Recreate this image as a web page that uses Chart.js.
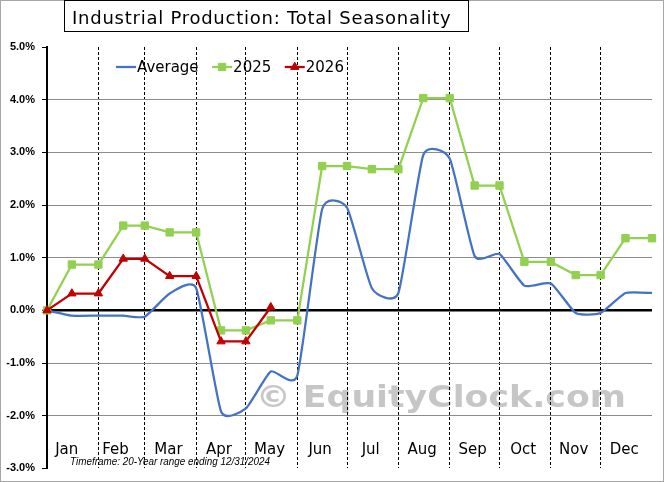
<!DOCTYPE html>
<html>
<head>
<meta charset="utf-8">
<title>Industrial Production: Total Seasonality</title>
<script src="https://cdn.jsdelivr.net/npm/chart.js@4.4.1/dist/chart.umd.min.js"></script>
<style>
  html, body { margin: 0; padding: 0; background: #fff; }
</style>
</head>
<body>
<canvas id="canvas" width="664" height="482"></canvas>
<script>
const ctx = document.getElementById("canvas").getContext("2d");

// day-of-year positions (Jan 1 = 0)
const monthNames = ["Jan", "Feb", "Mar", "Apr", "May", "Jun", "Jul", "Aug", "Sep", "Oct", "Nov", "Dec"];
const monthStarts = [0, 31, 59, 90, 120, 151, 181, 212, 243, 273, 304, 334, 365];
const pointDays = [0, 15, 31, 46, 59, 74, 90, 105, 120, 135, 151, 166, 181, 196, 212, 227, 243, 258, 273, 288, 304, 319, 334, 349, 365];

// series values, percent
const average = [0, -0.10, -0.10, -0.10, -0.12, 0.32, 0.42, -1.92, -1.86, -1.16, -1.24, 1.92, 1.95,
                 0.42, 0.33, 2.95, 2.88, 1.03, 1.07, 0.47, 0.51, -0.05, -0.05, 0.33, 0.33];
const y2025 = [0, 0.87, 0.87, 1.61, 1.61, 1.48, 1.48, -0.38, -0.38, -0.19, -0.19, 2.74, 2.74,
               2.68, 2.68, 4.03, 4.03, 2.37, 2.37, 0.92, 0.92, 0.67, 0.67, 1.37, 1.37];
const y2026 = [0, 0.32, 0.32, 0.98, 0.98, 0.65, 0.65, -0.59, -0.59, 0.06];

const yTicks = [-3, -2, -1, 0, 1, 2, 3, 4, 5];

const titleText = "Industrial Production: Total Seasonality";
const footnote = "Timeframe: 20-Year range ending 12/31/2024";
const watermark = "\u00A9 EquityClock.com";

const toPoints = (vals) => vals.map((v, i) => ({ x: pointDays[i], y: v }));

// spreadsheet-style smoothing for the average line
const smoothLine = {
  id: "smoothLine",
  beforeDatasetDraw: (chart, args) => {
    if (args.index !== 0) return;
    const line = args.meta.dataset;
    const pts = args.meta.data;
    if (line.updateControlPoints) line.updateControlPoints(chart.chartArea);
    const k = 0.085;
    for (let i = 0; i < pts.length; i++) {
      const p = pts[i];
      const prev = pts[Math.max(i - 1, 0)];
      const next = pts[Math.min(i + 1, pts.length - 1)];
      const dx = (next.x - prev.x) * k;
      const dy = (next.y - prev.y) * k;
      p.cp1x = p.x - dx; p.cp1y = p.y - dy;
      p.cp2x = p.x + dx; p.cp2y = p.y + dy;
    }
    line._path = undefined;
  }
};

const frame = {
  id: "frame",
  beforeDraw: (chart) => {
    const c = chart.ctx;
    c.save();
    c.fillStyle = "#fff";
    c.fillRect(0, 0, chart.width, chart.height);
    c.strokeStyle = "#a6a6a6";
    c.lineWidth = 1;
    c.strokeRect(0.5, 0.5, chart.width - 1, chart.height - 1);
    // watermark, under the grid
    c.fillStyle = "rgba(192,192,192,0.9)";
    c.font = "bold 31px 'DejaVu Sans'";
    c.textBaseline = "alphabetic";
    c.translate(256, 407);
    c.scale(1.12, 1);
    c.fillText(watermark, 0, 0);
    c.restore();
  },
  afterDraw: (chart) => {
    const c = chart.ctx;
    const xs = chart.scales.x;
    const area = chart.chartArea;
    c.save();
    // title box
    c.fillStyle = "#fff";
    c.fillRect(64.5, 0.5, 404, 31);
    c.strokeStyle = "#000";
    c.lineWidth = 1;
    c.strokeRect(64.5, 0.5, 404, 31);
    c.fillStyle = "#000";
    c.font = "18px 'DejaVu Sans'";
    c.letterSpacing = "0.75px";
    c.textBaseline = "alphabetic";
    c.textAlign = "left";
    c.fillText(titleText, 72, 23.5);
    c.letterSpacing = "0px";

    // month labels
    c.font = "15px 'DejaVu Sans'";
    c.textAlign = "center";
    c.textBaseline = "middle";
    monthNames.forEach((m, i) => {
      const mid = (monthStarts[i] + monthStarts[i + 1]) / 2;
      const shift = i < 2 ? -6 : -2;
      c.fillText(m, xs.getPixelForValue(mid) + shift, area.bottom - 18);
    });

    // footnote
    c.font = "italic 10px 'Liberation Sans'";
    c.textAlign = "left";
    c.fillText(footnote, 70, area.bottom - 6, 200);

    // legend
    c.font = "15px 'DejaVu Sans'";
    c.textBaseline = "middle";
    let lx = 116;
    const ly = 67;
    [0, 1, 2].forEach((di) => {
      const ds = chart.data.datasets[di];
      c.strokeStyle = ds.borderColor;
      c.fillStyle = ds.backgroundColor;
      c.lineWidth = ds.borderWidth;
      c.beginPath();
      c.moveTo(lx, ly);
      c.lineTo(lx + 20, ly);
      c.stroke();
      if (ds.pointRadius > 0) {
        c.lineWidth = 1;
        Chart.helpers.drawPoint(c, {
          pointStyle: ds.pointStyle,
          radius: ds.pointRadius,
          borderWidth: 1,
          rotation: 0
        }, lx + 10, ly);
      }
      c.fillStyle = "#000";
      c.fillText(ds.label, lx + 21, ly + 1);
      lx += 21 + c.measureText(ds.label).width + 13.5;
    });
    c.restore();
  }
};

const chart = new Chart(ctx, {
  type: "line",
  data: {
    datasets: [
      {
        label: "Average",
        data: toPoints(average),
        borderColor: "#4472C4",
        backgroundColor: "#4472C4",
        borderWidth: 2.25,
        pointRadius: 0,
        tension: 0.4,
        order: 3,
        clip: 10
      },
      {
        label: "2025",
        data: toPoints(y2025),
        borderColor: "#92D050",
        backgroundColor: "#92D050",
        borderWidth: 2.25,
        pointStyle: "rect",
        pointRadius: 5.2,
        pointBorderWidth: 1,
        tension: 0,
        order: 2,
        clip: 10
      },
      {
        label: "2026",
        data: toPoints(y2026),
        borderColor: "#C00000",
        backgroundColor: "#C00000",
        borderWidth: 2.25,
        pointStyle: "triangle",
        pointRadius: 4.8,
        pointBorderWidth: 1,
        tension: 0,
        order: 1,
        clip: 10
      }
    ]
  },
  options: {
    responsive: false,
    animation: false,
    layout: { padding: { left: 0, top: 47, right: 12, bottom: 12 } },
    plugins: {
      legend: { display: false },
      title: { display: false },
      tooltip: { enabled: false }
    },
    scales: {
      x: {
        type: "linear",
        min: 0,
        max: 365,
        afterBuildTicks: (s) => { s.ticks = monthStarts.map((v) => ({ value: v })); },
        afterFit: (s) => { s.height = 0; },
        ticks: { display: false },
        grid: {
          color: (c) => (c.tick && (c.tick.value === 0 || c.tick.value === 365)) ? "rgba(0,0,0,0)" : "#000",
          lineWidth: 1,
          drawTicks: false
        },
        border: { display: false, dash: [3, 2] }
      },
      y: {
        min: -3,
        max: 5,
        afterBuildTicks: (s) => { s.ticks = yTicks.map((v) => ({ value: v })); },
        afterFit: (s) => { s.width = 47; },
        ticks: {
          callback: (v) => v.toFixed(1) + "%",
          font: { family: "'Liberation Sans'", size: 11, weight: "bold" },
          color: "#000",
          padding: 7
        },
        grid: {
          color: (c) => {
            const v = c.tick ? c.tick.value : null;
            if (v === 0) return "#000";
            if (v === 5 || v === -3) return "rgba(0,0,0,0)";
            return "#8c8c8c";
          },
          lineWidth: (c) => (c.tick && c.tick.value === 0) ? 2.5 : 1,
          tickColor: "#000",
          tickLength: 5,
          tickWidth: 1
        },
        border: { color: "#000", width: 2 }
      }
    }
  },
  plugins: [frame, smoothLine]
});
</script>
</body>
</html>
